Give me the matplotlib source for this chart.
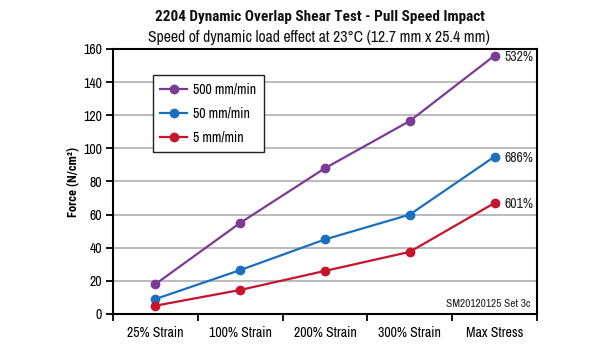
import matplotlib
matplotlib.use("Agg")
import matplotlib.pyplot as plt
from matplotlib.ticker import FixedLocator
import logging
logging.getLogger('matplotlib.font_manager').setLevel(logging.ERROR)

plt.rcParams['font.family'] = ['Archivo Narrow', 'DejaVu Sans']
BOLD_FAMILY = ['Roboto Condensed', 'Asap Condensed', 'Archivo Narrow', 'DejaVu Sans']

categories = ["25% Strain", "100% Strain", "200% Strain", "300% Strain", "Max Stress"]
s500 = [18, 55, 88, 116.5, 156]
s50 = [9, 26.5, 45, 60, 95]
s5 = [5, 14.5, 26, 37.5, 67]
end_labels = ["532%", "686%", "601%"]
series_names = ["500 mm/min", "50 mm/min", "5 mm/min"]
colors = ["#7B3A96", "#1B6FBF", "#C5142C"]

fig = plt.figure(figsize=(6.15, 3.5), dpi=100)
ax = fig.add_axes([0.1837, 0.1029, 0.873 - 0.1837, 0.86 - 0.1029])

x = list(range(len(categories)))
for vals, name, c in zip([s500, s50, s5], series_names, colors):
    ax.plot(x, vals, color=c, lw=1.6, marker='o', ms=6, label=name, zorder=3)

for vals, lab in zip([s500, s50, s5], end_labels):
    ax.annotate(lab, (x[-1], vals[-1]), xytext=(7, -1), textcoords='offset points',
                ha='left', va='center', fontsize=10, color='#222222')

ax.set_xlim(-0.5, 4.5)
ax.set_ylim(0, 160)
ax.set_yticks(range(0, 161, 20))
ax.yaxis.grid(True, color='#b5b5b5', lw=1.3)
ax.set_axisbelow(True)
ax.set_xticks(x)
ax.set_xticklabels(categories, fontsize=10)
ax.tick_params(axis='x', length=0, pad=9)
ax.xaxis.set_minor_locator(FixedLocator([-0.5, 0.5, 1.5, 2.5, 3.5, 4.5]))
ax.tick_params(axis='x', which='minor', length=5, width=1.3, color='black')
ax.tick_params(axis='y', labelsize=10, length=5, width=1.3, pad=3)
for sp in ax.spines.values():
    sp.set_linewidth(1.5)
ax.set_ylabel("Force (N/cm²)", fontsize=9, fontweight='bold', family=BOLD_FAMILY, labelpad=2)

ax.text(0.985, 0.02, "SM20120125 Set 3c", transform=ax.transAxes, ha='right', va='bottom',
        fontsize=8.2, color='#222222')

leg = ax.legend(loc='upper left', bbox_to_anchor=(0.094, 0.902), borderaxespad=0, fontsize=10,
                frameon=True, fancybox=False, edgecolor='#222222', framealpha=1,
                handlelength=1.9, borderpad=0.55, labelspacing=0.72, handletextpad=0.45)
leg.get_frame().set_linewidth(1.0)

fig.text(0.52, 0.951, "2204 Dynamic Overlap Shear Test - Pull Speed Impact", ha='center',
         va='center', fontsize=11, fontweight='bold', family=BOLD_FAMILY, color='#111111')
fig.text(0.519, 0.894, "Speed of dynamic load effect at 23°C (12.7 mm x 25.4 mm)", ha='center',
         va='center', fontsize=11.3, color='#111111')

fig.savefig("out.png", dpi=100, facecolor='white')
